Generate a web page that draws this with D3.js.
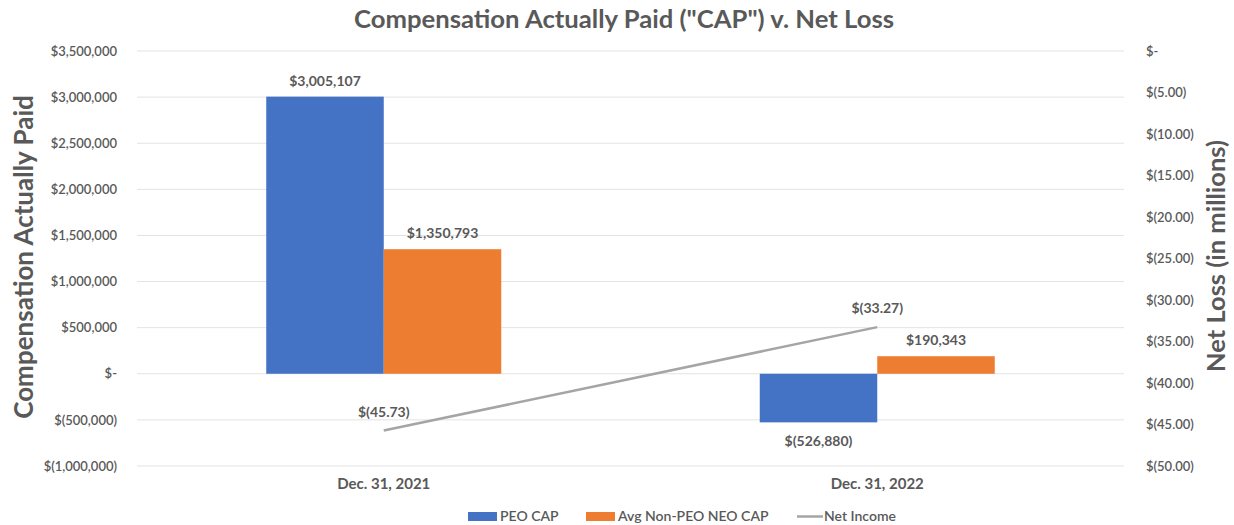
<!DOCTYPE html>
<html>
<head>
<meta charset="utf-8">
<script src="https://cdn.jsdelivr.net/npm/d3@7"></script>
<style>
  body { margin: 0; background: #fff; }
  svg text { font-family: Lato, "Open Sans", sans-serif; fill: #595959; }
</style>
</head>
<body>
<svg id="chart" width="1234" height="525"></svg>
<script>
// chart data
const categories = ["Dec. 31, 2021", "Dec. 31, 2022"];
const peoCap = [3005107, -526880];
const avgNeoCap = [1350793, 190343];
const netIncome = [-45.73, -33.27];
const seriesNames = ["PEO CAP", "Avg Non-PEO NEO CAP", "Net Income"];
const leftTicks = [3500000, 3000000, 2500000, 2000000, 1500000, 1000000, 500000, 0, -500000, -1000000];
const rightTicks = [0, -5, -10, -15, -20, -25, -30, -35, -40, -45, -50];

const svg = d3.select("#chart");
const plot = {left: 137, right: 1124, top: 51, bottom: 466};

const x = d3.scaleBand().domain(categories).range([plot.left, plot.right]);
const groupW = x.bandwidth() / 2.1;   // excel gap width 110%
const y = d3.scaleLinear().domain([-1000000, 3500000]).range([plot.bottom, plot.top]);
const y2 = d3.scaleLinear().domain([-50, 0]).range([plot.bottom, plot.top]);

const money = v => v === 0 ? "$-" : (v < 0 ? "$(" + d3.format(",")(-v) + ")" : "$" + d3.format(",")(v));
const money2 = v => v === 0 ? "$-" : "$(" + d3.format(".2f")(-v) + ")";

// gridlines
svg.append("g").selectAll("line").data(leftTicks).join("line")
  .attr("x1", plot.left).attr("x2", plot.right)
  .attr("y1", d => y(d)).attr("y2", d => y(d))
  .attr("stroke", "#e3e3e3").attr("stroke-width", 1);

// left axis
const la = svg.append("g").attr("transform", "translate(" + (plot.left - 17) + ",0)")
  .call(d3.axisLeft(y).tickValues(leftTicks).tickFormat(money).tickSize(0));
la.select(".domain").remove();
la.selectAll("text").style("font-size", "13px").style("font-weight", "600").attr("fill", "#595959");

// right axis
const ra = svg.append("g").attr("transform", "translate(" + (plot.right + 19) + ",0)")
  .call(d3.axisRight(y2).tickValues(rightTicks).tickFormat(money2).tickSize(0));
ra.select(".domain").remove();
ra.selectAll("text").style("font-size", "13px").style("font-weight", "600").attr("fill", "#595959");

// bars
const bars = [
  {vals: peoCap, color: "#4472C4", off: 0},
  {vals: avgNeoCap, color: "#ED7D31", off: 1}
];
bars.forEach(s => {
  const g = svg.append("g");
  g.selectAll("rect").data(categories).join("rect")
    .attr("x", c => x(c) + x.bandwidth() / 2 - groupW / 2 + s.off * groupW / 2)
    .attr("width", groupW / 2)
    .attr("y", (c, i) => y(Math.max(0, s.vals[i])))
    .attr("height", (c, i) => Math.abs(y(s.vals[i]) - y(0)))
    .attr("fill", s.color);
  g.selectAll("text").data(categories).join("text")
    .attr("x", c => x(c) + x.bandwidth() / 2 - groupW / 2 + s.off * groupW / 2 + groupW / 4)
    .attr("y", (c, i) => s.vals[i] >= 0 ? y(s.vals[i]) - 11 : y(s.vals[i]) + 24)
    .attr("text-anchor", "middle")
    .style("font-size", "14px").style("font-weight", "700").attr("fill", "#404040")
    .text((c, i) => money(s.vals[i]));
});

// net income line
const line = d3.line().x((d, i) => x(categories[i]) + x.bandwidth() / 2).y(d => y2(d));
svg.append("path").datum(netIncome)
  .attr("d", line).attr("fill", "none")
  .attr("stroke", "#A5A5A5").attr("stroke-width", 2.5);
svg.append("g").selectAll("text").data(netIncome).join("text")
  .attr("x", (d, i) => x(categories[i]) + x.bandwidth() / 2)
  .attr("y", d => y2(d) - 14)
  .attr("text-anchor", "middle")
  .style("font-size", "14px").style("font-weight", "700").attr("fill", "#404040")
  .text(money2);

// category labels
svg.append("g").selectAll("text").data(categories).join("text")
  .attr("x", c => x(c) + x.bandwidth() / 2)
  .attr("y", 489)
  .attr("text-anchor", "middle")
  .style("font-size", "15px").style("font-weight", "700").attr("fill", "#595959")
  .text(c => c);

// title
svg.append("text").attr("x", 624).attr("y", 28).attr("text-anchor", "middle")
  .attr("textLength", 540).attr("lengthAdjust", "spacingAndGlyphs")
  .style("font-size", "24px").style("font-weight", "700")
  .text('Compensation Actually Paid ("CAP") v. Net Loss');

// axis titles
svg.append("text").attr("transform", "translate(33,257) rotate(-90)")
  .attr("text-anchor", "middle")
  .style("font-size", "26px").style("font-weight", "700")
  .text("Compensation Actually Paid");
svg.append("text").attr("transform", "translate(1225,256) rotate(-90)")
  .attr("text-anchor", "middle")
  .style("font-size", "25.5px").style("font-weight", "700")
  .text("Net Loss (in millions)");

// legend
const legend = [
  {name: seriesNames[0], color: "#4472C4", x: 468, type: "rect"},
  {name: seriesNames[1], color: "#ED7D31", x: 586, type: "rect"},
  {name: seriesNames[2], color: "#A5A5A5", x: 797, type: "line"}
];
const lg = svg.append("g");
legend.forEach(d => {
  if (d.type === "rect") {
    lg.append("rect").attr("x", d.x).attr("y", 512).attr("width", 29).attr("height", 9).attr("fill", d.color);
  } else {
    lg.append("line").attr("x1", d.x).attr("x2", d.x + 26).attr("y1", 516.5).attr("y2", 516.5)
      .attr("stroke", d.color).attr("stroke-width", 2.5);
  }
  lg.append("text").attr("x", d.x + (d.type === "rect" ? 32 : 27)).attr("y", 521)
    .style("font-size", "14px").style("font-weight", "600").attr("fill", "#595959")
    .text(d.name);
});
</script>
</body>
</html>
